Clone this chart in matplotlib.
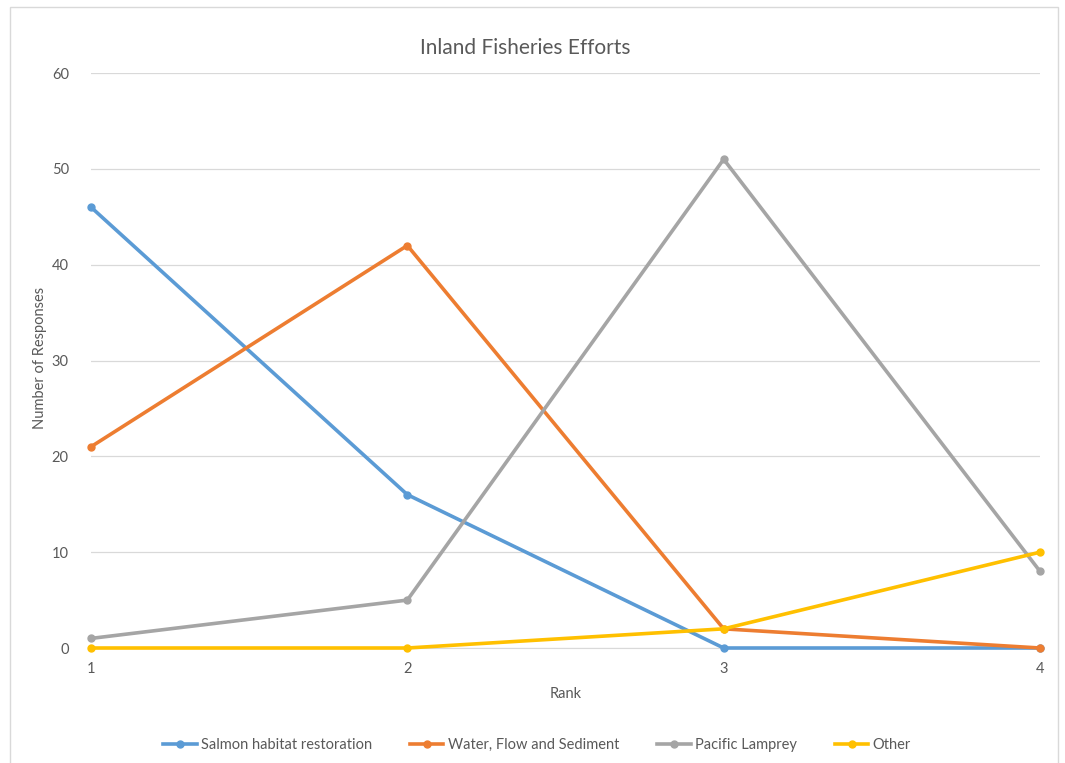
import matplotlib
matplotlib.use("Agg")
import matplotlib.pyplot as plt
from matplotlib.patches import Rectangle

plt.rcParams['font.family'] = ['Lato', 'DejaVu Sans']

ranks = [1, 2, 3, 4]
salmon = [46, 16, 0, 0]
water = [21, 42, 2, 0]
lamprey = [1, 5, 51, 8]
other = [0, 0, 2, 10]
series_names = ["Salmon habitat restoration", "Water, Flow and Sediment",
                "Pacific Lamprey", "Other"]
colors = ["#5B9BD5", "#ED7D31", "#A5A5A5", "#FFC000"]
yticks = [0, 10, 20, 30, 40, 50, 60]

fig = plt.figure(figsize=(10.65, 7.63), dpi=100)
fig.patches.append(Rectangle((10 / 1065, -0.01), 1048 / 1065, 1 - 7 / 763 + 0.01,
                             transform=fig.transFigure, fill=False,
                             edgecolor="#D9D9D9", linewidth=1.0))
ax = fig.add_axes([91 / 1065, 1 - 648 / 763, (1040 - 91) / 1065, (648 - 73) / 763])

for vals, name, c in zip([salmon, water, lamprey, other], series_names, colors):
    ax.plot(ranks, vals, color=c, linewidth=2.6, marker="o", markersize=5,
            label=name, clip_on=False, zorder=3)

ax.set_xlim(1, 4)
ax.set_ylim(0, 60)
ax.set_xticks(ranks)
ax.set_yticks(yticks)
ax.grid(axis="y", color="#D9D9D9", linewidth=0.9)
ax.set_axisbelow(True)
for s in ["top", "right", "left"]:
    ax.spines[s].set_visible(False)
ax.spines["bottom"].set_color("#D9D9D9")
ax.tick_params(axis="both", length=0, labelsize=10.5, colors="#595959")
ax.tick_params(axis="y", pad=16)
ax.tick_params(axis="x", pad=10)

fig.text(525 / 1065, 1 - 48 / 763, "Inland Fisheries Efforts", fontsize=15,
         color="#595959", ha="center", va="center")
ax.set_xlabel("Rank", fontsize=10.5, color="#595959", labelpad=8)
ax.set_ylabel("Number of Responses", fontsize=10.5, color="#595959", labelpad=0)
ax.yaxis.set_label_coords(40 / 1065, 1 - 358 / 763, transform=fig.transFigure)
ax.yaxis.label.set_va("center")

leg = fig.legend(loc="center", bbox_to_anchor=(537 / 1065, 1 - 745 / 763), ncol=4,
                 frameon=False, fontsize=10.5, handlelength=2.3, columnspacing=2.6,
                 handletextpad=0.3, labelcolor="#595959")

fig.savefig("out.png", dpi=100)
